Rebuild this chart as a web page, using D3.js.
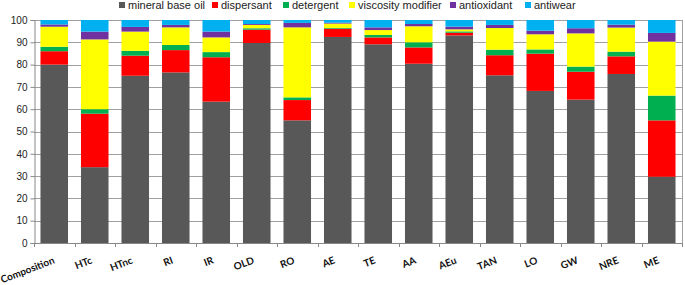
<!DOCTYPE html>
<html>
<head>
<meta charset="utf-8">
<script src="https://cdn.jsdelivr.net/npm/d3@7"></script>
<style>
  body { margin: 0; background: #fff; }
  svg { display: block; }
</style>
</head>
<body>
<div id="chart"></div>
<script>
var categories = ["Composition", "HTc", "HTnc", "RI", "IR", "OLD", "RO", "AE", "TE", "AA", "AEu", "TAN", "LO", "GW", "NRE", "ME"]
var seriesNames = ["mineral base oil", "dispersant", "detergent", "viscosity modifier", "antioxidant", "antiwear"]
var mineral     = [80, 34, 75, 76.5, 63.4, 89.7, 55, 92.4, 89.1, 80.4, 93.1, 75.2, 68.2, 64.3, 75.8, 29.7]
var dispersant  = [6, 24, 9, 10, 19.9, 6, 9.1, 3.7, 3.1, 7.3, 1.2, 9, 16.7, 12.5, 7.9, 25.3]
var detergent   = [2, 2, 2.2, 2.3, 2.3, 0.6, 1.2, 0.3, 1.1, 2.3, 0.6, 2.5, 1.9, 2.3, 2.1, 11.1]
var viscosity   = [9, 31.3, 8.6, 7.9, 6.6, 1.5, 31.4, 2, 2.2, 7.2, 0.9, 9.7, 6.8, 14.9, 10.8, 24.2]
var antioxidant = [1, 3.5, 2.1, 1.1, 2.6, 0.4, 2, 0.4, 1.2, 1.0, 1.2, 1.4, 1.6, 2.3, 1.3, 3.9]
var antiwear    = [2, 5.2, 3.1, 2.2, 5.2, 1.8, 1.3, 1.2, 3.3, 1.8, 3.0, 2.2, 4.8, 3.7, 2.1, 5.8]
var yTicks = [0, 10, 20, 30, 40, 50, 60, 70, 80, 90, 100]

var colors = ["#585858", "#ff0000", "#00b050", "#ffff00", "#7030a0", "#00b0f0"]
var color = d3.scaleOrdinal().domain(seriesNames).range(colors)

var width = 685, height = 285
var plotLeft = 34, plotRight = 682, plotTop = 20, plotBottom = 243

// build rows for d3.stack
var cols = [mineral, dispersant, detergent, viscosity, antioxidant, antiwear]
var rows = categories.map(function(c, i) {
  var r = {cat: c}
  seriesNames.forEach(function(s, j) { r[s] = cols[j][i] })
  return r
})
var stacked = d3.stack().keys(seriesNames)(rows)

var svg = d3.select("#chart").append("svg")
  .attr("width", width)
  .attr("height", height)

var x = d3.scaleBand().domain(categories).range([plotLeft, plotRight]).paddingInner(0.32).paddingOuter(0.16)
var y = d3.scaleLinear().domain([0, 100]).range([plotBottom, plotTop])

// grid lines
svg.append("g").selectAll("line")
  .data(yTicks)
  .enter().append("line")
    .attr("x1", plotLeft).attr("x2", plotRight)
    .attr("y1", function(d) { return Math.round(y(d)) + 0.5 })
    .attr("y2", function(d) { return Math.round(y(d)) + 0.5 })
    .attr("stroke", "#a0a0a0")
    .attr("stroke-width", 1)

// right border
svg.append("line")
  .attr("x1", plotRight + 0.5).attr("x2", plotRight + 0.5)
  .attr("y1", plotTop).attr("y2", plotBottom)
  .attr("stroke", "#a0a0a0")

// bars
svg.append("g").selectAll("g")
  .data(stacked)
  .enter().append("g")
    .attr("fill", function(d) { return color(d.key) })
  .selectAll("rect")
  .data(function(d) { return d })
  .enter().append("rect")
    .attr("x", function(d) { return x(d.data.cat) })
    .attr("y", function(d) { return y(d[1]) })
    .attr("width", x.bandwidth())
    .attr("height", function(d) { return y(d[0]) - y(d[1]) })

// y axis
var yAxis = svg.append("g")
  .attr("transform", "translate(" + (plotLeft + 0.5) + ",0)")
  .call(d3.axisLeft(y).tickValues(yTicks).tickSize(4).tickPadding(3))
yAxis.select(".domain").attr("stroke", "#888")
yAxis.selectAll(".tick line").attr("stroke", "#888")
yAxis.selectAll("text")
  .attr("font-family", "Liberation Sans, Arial, sans-serif")
  .attr("font-size", "10px")
  .attr("fill", "#222")

// x axis: line with ticks between categories
svg.append("line")
  .attr("x1", plotLeft).attr("x2", plotRight)
  .attr("y1", plotBottom + 0.5).attr("y2", plotBottom + 0.5)
  .attr("stroke", "#888")
svg.append("g").selectAll("line")
  .data(d3.range(categories.length + 1))
  .enter().append("line")
    .attr("x1", function(i) { return Math.round(plotLeft + i * x.step()) + 0.5 })
    .attr("x2", function(i) { return Math.round(plotLeft + i * x.step()) + 0.5 })
    .attr("y1", plotBottom).attr("y2", plotBottom + 4)
    .attr("stroke", "#888")

svg.append("g").selectAll("text")
  .data(categories)
  .enter().append("text")
    .attr("transform", function(d, i) {
      var dx = i == 0 ? 1 : -2
      return "translate(" + (x(d) + x.bandwidth() / 2 + dx) + "," + (plotBottom + 20) + ") rotate(-21)"
    })
    .attr("text-anchor", "end")
    .attr("font-family", "Lato, Open Sans, sans-serif")
    .attr("font-weight", "bold")
    .attr("font-size", "10px")
    .attr("fill", "#111")
    .text(function(d) { return d })

// legend
var legendX = [119, 212, 283, 349, 450, 525]
var legend = svg.append("g").selectAll("g")
  .data(seriesNames)
  .enter().append("g")
    .attr("transform", function(d, i) { return "translate(" + legendX[i] + ",0)" })
legend.append("rect")
  .attr("width", 6).attr("height", 6).attr("y", 2)
  .attr("fill", function(d) { return color(d) })
legend.append("text")
  .attr("x", 9).attr("y", 9)
  .attr("font-family", "Liberation Sans, Arial, sans-serif")
  .attr("font-size", "11px")
  .attr("fill", "#222")
  .text(function(d) { return d })
</script>
</body>
</html>
